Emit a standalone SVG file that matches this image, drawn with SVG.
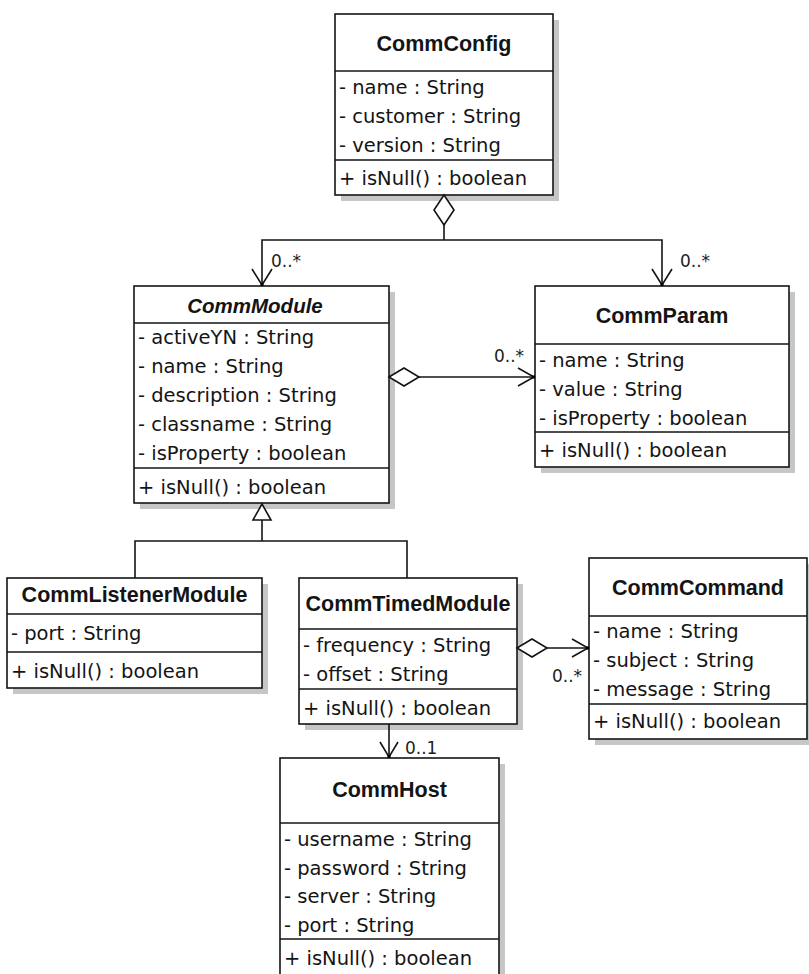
<svg xmlns="http://www.w3.org/2000/svg" width="809" height="974" viewBox="0 0 809 974">
  <style>
    .shadow { fill: #c6c6c6; stroke: none; }
    .box { fill: #ffffff; stroke: #141414; stroke-width: 1.6; }
    .sep { stroke: #141414; stroke-width: 1.6; fill: none; }
    .title { font-family: "Liberation Sans", Arial, sans-serif; font-size: 21.5px; font-weight: bold; fill: #141414; text-anchor: middle; }
    .abstract { font-style: italic; font-size: 20.5px; }
    .member { font-family: "DejaVu Sans", "Liberation Sans", sans-serif; font-size: 19.5px; fill: #141414; }
    .mult { font-family: "DejaVu Sans", "Liberation Sans", sans-serif; font-size: 17px; fill: #1e1e1e; }
    .line { stroke: #141414; stroke-width: 1.6; fill: none; }
    .hollow { stroke: #141414; stroke-width: 1.6; fill: #ffffff; }
    .tip { fill: #000000; }
  </style>

  <!-- CommConfig -->
  <g id="CommConfig">
    <rect class="shadow" x="341" y="20" width="218" height="181"/>
    <rect class="box" x="335" y="14" width="218" height="181"/>
    <line class="sep" x1="335" y1="71" x2="553" y2="71"/>
    <line class="sep" x1="335" y1="160" x2="553" y2="160"/>
    <text class="title" x="444" y="51">CommConfig</text>
    <text class="member" x="339" y="94">- name : String</text>
    <text class="member" x="339" y="123">- customer : String</text>
    <text class="member" x="339" y="152">- version : String</text>
    <text class="member" x="339" y="185">+ isNull() : boolean</text>
  </g>

  <!-- CommModule (abstract) -->
  <g id="CommModule">
    <rect class="shadow" x="140" y="292" width="255" height="217"/>
    <rect class="box" x="134" y="286" width="255" height="217"/>
    <line class="sep" x1="134" y1="323" x2="389" y2="323"/>
    <line class="sep" x1="134" y1="468" x2="389" y2="468"/>
    <text class="title abstract" x="255" y="313">CommModule</text>
    <text class="member" x="138" y="344">- activeYN : String</text>
    <text class="member" x="138" y="373">- name : String</text>
    <text class="member" x="138" y="402">- description : String</text>
    <text class="member" x="138" y="431">- classname : String</text>
    <text class="member" x="138" y="460">- isProperty : boolean</text>
    <text class="member" x="138" y="494">+ isNull() : boolean</text>
  </g>

  <!-- CommParam -->
  <g id="CommParam">
    <rect class="shadow" x="541" y="292" width="254" height="181"/>
    <rect class="box" x="535" y="286" width="254" height="181"/>
    <line class="sep" x1="535" y1="344" x2="789" y2="344"/>
    <line class="sep" x1="535" y1="432" x2="789" y2="432"/>
    <text class="title" x="662" y="323">CommParam</text>
    <text class="member" x="539" y="367">- name : String</text>
    <text class="member" x="539" y="396">- value : String</text>
    <text class="member" x="539" y="425">- isProperty : boolean</text>
    <text class="member" x="539" y="457">+ isNull() : boolean</text>
  </g>

  <!-- CommListenerModule -->
  <g id="CommListenerModule">
    <rect class="shadow" x="13" y="584" width="255" height="110"/>
    <rect class="box" x="7" y="578" width="255" height="110"/>
    <line class="sep" x1="7" y1="614" x2="262" y2="614"/>
    <line class="sep" x1="7" y1="652" x2="262" y2="652"/>
    <text class="title" x="134.5" y="602">CommListenerModule</text>
    <text class="member" x="11" y="640">- port : String</text>
    <text class="member" x="11" y="678">+ isNull() : boolean</text>
  </g>

  <!-- CommTimedModule -->
  <g id="CommTimedModule">
    <rect class="shadow" x="305" y="584" width="218" height="146"/>
    <rect class="box" x="299" y="578" width="218" height="146"/>
    <line class="sep" x1="299" y1="629" x2="517" y2="629"/>
    <line class="sep" x1="299" y1="689" x2="517" y2="689"/>
    <text class="title" x="408" y="611">CommTimedModule</text>
    <text class="member" x="303" y="652">- frequency : String</text>
    <text class="member" x="303" y="681">- offset : String</text>
    <text class="member" x="303" y="715">+ isNull() : boolean</text>
  </g>

  <!-- CommCommand -->
  <g id="CommCommand">
    <rect class="shadow" x="595" y="564" width="218" height="181"/>
    <rect class="box" x="589" y="558" width="218" height="181"/>
    <line class="sep" x1="589" y1="616" x2="807" y2="616"/>
    <line class="sep" x1="589" y1="704" x2="807" y2="704"/>
    <text class="title" x="698" y="595">CommCommand</text>
    <text class="member" x="593" y="638">- name : String</text>
    <text class="member" x="593" y="667">- subject : String</text>
    <text class="member" x="593" y="696">- message : String</text>
    <text class="member" x="593" y="728">+ isNull() : boolean</text>
  </g>

  <!-- CommHost (continues below the bottom edge) -->
  <g id="CommHost">
    <rect class="shadow" x="286" y="764" width="219" height="230"/>
    <rect class="box" x="280" y="758" width="219" height="230"/>
    <line class="sep" x1="280" y1="823" x2="499" y2="823"/>
    <line class="sep" x1="280" y1="939" x2="499" y2="939"/>
    <text class="title" x="389.5" y="797">CommHost</text>
    <text class="member" x="284" y="846">- username : String</text>
    <text class="member" x="284" y="875">- password : String</text>
    <text class="member" x="284" y="903">- server : String</text>
    <text class="member" x="284" y="932">- port : String</text>
    <text class="member" x="284" y="965">+ isNull() : boolean</text>
  </g>

  <!-- Associations, aggregations and generalization -->
  <g id="connectors">
    <!-- CommConfig aggregates CommModule and CommParam -->
    <polygon class="hollow" points="444,195 454,210 444,225 434,210"/>
    <polyline class="line" points="444,225 444,240"/>
    <polyline class="line" points="262,285 262,240 662,240 662,285"/>
    <polyline class="line" points="252,269 262,285 272,269"/>
    <polyline class="line" points="652,269 662,285 672,269"/>
    <rect class="tip" x="260.5" y="283" width="3" height="3"/>
    <rect class="tip" x="660.5" y="283" width="3" height="3"/>
    <text class="mult" x="271" y="267">0..*</text>
    <text class="mult" x="680" y="267">0..*</text>

    <!-- CommModule aggregates CommParam -->
    <polygon class="hollow" points="389,377 404,368 419,377 404,386"/>
    <line class="line" x1="419" y1="377" x2="534" y2="377"/>
    <polyline class="line" points="518,368 534,377 518,386"/>
    <rect class="tip" x="532" y="375.5" width="3" height="3"/>
    <text class="mult" x="494" y="362">0..*</text>

    <!-- CommListenerModule / CommTimedModule extend CommModule -->
    <polygon class="hollow" points="262,504 253,520 271,520"/>
    <line class="line" x1="262" y1="520" x2="262" y2="541"/>
    <polyline class="line" points="135,578 135,541 407,541 407,578"/>

    <!-- CommTimedModule aggregates CommCommand -->
    <polygon class="hollow" points="517,648 532,639 547,648 532,657"/>
    <line class="line" x1="547" y1="648" x2="588" y2="648"/>
    <polyline class="line" points="572,639 588,648 572,657"/>
    <rect class="tip" x="586" y="646.5" width="3" height="3"/>
    <text class="mult" x="552" y="682">0..*</text>

    <!-- CommTimedModule references CommHost -->
    <line class="line" x1="389" y1="724" x2="389" y2="757"/>
    <polyline class="line" points="380,742 389,757 398,742"/>
    <rect class="tip" x="387.5" y="755" width="3" height="3"/>
    <text class="mult" x="405" y="754">0..1</text>
  </g>
</svg>
